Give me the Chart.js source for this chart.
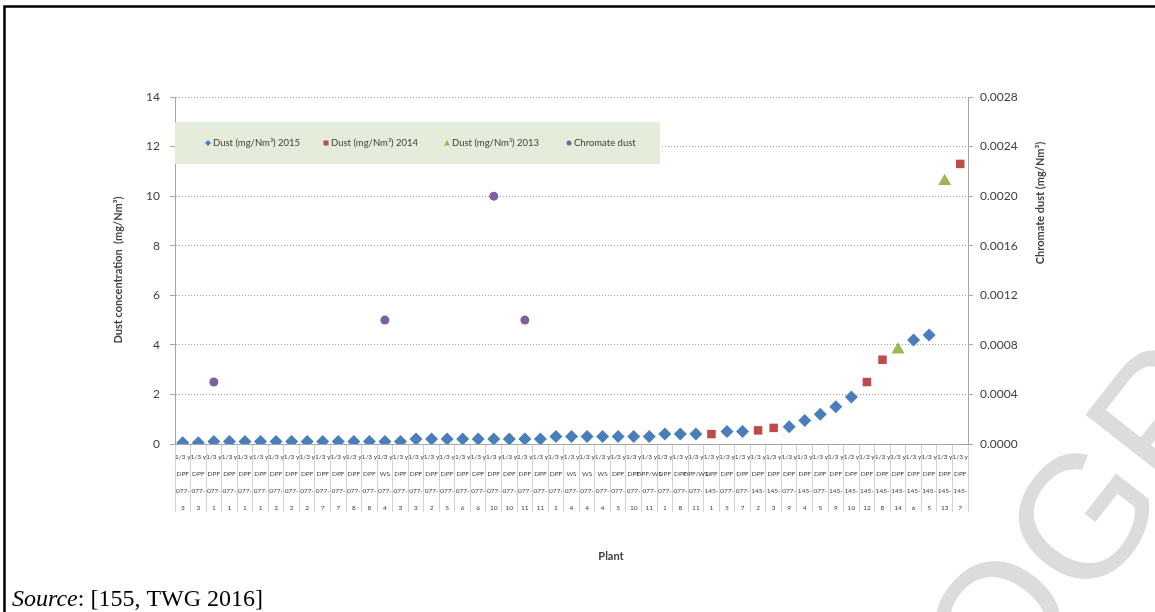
<!DOCTYPE html>
<html>
<head>
<meta charset="utf-8">
<script src="https://cdn.jsdelivr.net/npm/chart.js@4.4.1/dist/chart.umd.min.js"></script>
<style>
  html, body { margin: 0; padding: 0; background: #fff; }
  canvas { display: block; }
</style>
</head>
<body>
<canvas id="dustChart" width="1155" height="612"></canvas>
<script>
// plant label rows (four stacked rows under each category)
const plantRow1 = Array(51).fill('1/3 y');
const plantType = [
  'DPF','DPF','DPF','DPF','DPF','DPF','DPF','DPF','DPF','DPF','DPF','DPF','DPF','WS','DPF','DPF','DPF',
  'DPF','DPF','DPF','DPF','DPF','DPF','DPF','DPF','WS','WS','WS','DPF','DPF','DPF/WS','DPF','DPF','DPF/WS',
  'DPF','DPF','DPF','DPF','DPF','DPF','DPF','DPF','DPF','DPF','DPF','DPF','DPF','DPF','DPF','DPF','DPF'
];
const plantSite = [
  '077-','077-','077-','077-','077-','077-','077-','077-','077-','077-','077-','077-','077-','077-','077-','077-','077-',
  '077-','077-','077-','077-','077-','077-','077-','077-','077-','077-','077-','077-','077-','077-','077-','077-','077-',
  '145-','077-','077-','145-','145-','077-','145-','077-','145-','145-','145-','145-','145-','145-','145-','145-','145-'
];
const plantNo = [
  3,3,1,1,1,1,2,2,2,7,7,8,8,4,3,3,2,
  5,6,6,10,10,11,11,1,4,4,4,5,10,11,1,8,11,
  1,5,7,2,3,9,4,5,9,10,12,8,14,6,5,13,7
];

// dust concentration, mg/Nm3 (left axis)
const dust2015 = [
  0.05,0.05,0.1,0.1,0.1,0.1,0.1,0.1,0.1,0.1,0.1,0.1,0.1,0.1,0.1,0.2,0.2,
  0.2,0.2,0.2,0.2,0.2,0.2,0.2,0.3,0.3,0.3,0.3,0.3,0.3,0.3,0.4,0.4,0.4,
  null,0.5,0.5,null,null,0.7,0.95,1.2,1.5,1.9,null,null,null,4.2,4.4,null,null
];
const dust2014 = [
  null,null,null,null,null,null,null,null,null,null,null,null,null,null,null,null,null,
  null,null,null,null,null,null,null,null,null,null,null,null,null,null,null,null,null,
  0.4,null,null,0.55,0.65,null,null,null,null,null,2.5,3.4,null,null,null,null,11.3
];
const dust2013 = [
  null,null,null,null,null,null,null,null,null,null,null,null,null,null,null,null,null,
  null,null,null,null,null,null,null,null,null,null,null,null,null,null,null,null,null,
  null,null,null,null,null,null,null,null,null,null,null,null,3.8,null,null,10.6,null
];
// chromate dust, mg/Nm3 (right axis)
const chromate = [
  null,null,0.0005,null,null,null,null,null,null,null,null,null,null,0.001,null,null,null,
  null,null,null,0.002,null,0.001,null,null,null,null,null,null,null,null,null,null,null,
  null,null,null,null,null,null,null,null,null,null,null,null,null,null,null,null,null
];

const leftTicks = { min: 0, max: 14, step: 2 };
const rightTicks = { min: 0, max: 0.0028, step: 0.0004 };

const textGrey = '#404040';
const axisGrey = '#a6a6a6';

const pageDecor = {
  id: 'pageDecor',
  beforeDraw(chart) {
    const ctx = chart.ctx;
    ctx.save();
    ctx.fillStyle = '#fff';
    ctx.fillRect(0, 0, chart.width, chart.height);
    // frame around the figure
    ctx.strokeStyle = '#000';
    ctx.lineWidth = 2.5;
    ctx.beginPath();
    ctx.moveTo(4.5, chart.height);
    ctx.lineTo(4.5, 6.5);
    ctx.lineTo(chart.width, 6.5);
    ctx.stroke();
    ctx.restore();
  },
  afterDraw(chart) {
    const ctx = chart.ctx;
    ctx.save();
    // watermark
    ctx.fillStyle = '#dcdcdc';
    ctx.font = '175px "Liberation Sans"';
    const pre = ctx.measureText('PRO').width;
    const g = ctx.measureText('G').width;
    ctx.translate(1080, 515);
    ctx.rotate(-52 * Math.PI / 180);
    ctx.textBaseline = 'alphabetic';
    ctx.fillText('PROGRESS', -(pre + g / 2), 63);
    ctx.restore();

    ctx.save();
    ctx.fillStyle = textGrey;
    ctx.font = 'bold 11px Lato';
    ctx.textAlign = 'center';
    ctx.textBaseline = 'middle';
    ctx.save();
    ctx.translate(118, 270);
    ctx.rotate(-Math.PI / 2);
    ctx.fillText('Dust concentration  (mg/Nm³)', 0, 0);
    ctx.restore();
    ctx.save();
    ctx.translate(1040, 203);
    ctx.rotate(-Math.PI / 2);
    ctx.fillText('Chromate dust (mg/Nm³)', 0, 0);
    ctx.restore();
    ctx.fillText('Plant', 611, 556);

    // source line
    ctx.fillStyle = '#000';
    ctx.textAlign = 'left';
    ctx.textBaseline = 'alphabetic';
    ctx.font = 'italic 24px "Liberation Serif"';
    ctx.fillText('Source', 12, 606);
    const w = ctx.measureText('Source').width;
    ctx.font = '24px "Liberation Serif"';
    ctx.fillText(': [155, TWG 2016]', 12 + w, 606);
    ctx.restore();
  }
};

// legend box drawn inside the plot area
const legendBox = {
  id: 'legendBox',
  afterDraw(chart) {
    const ctx = chart.ctx;
    ctx.save();
    ctx.fillStyle = '#e6ecda';
    ctx.fillRect(175, 122, 485, 42);
    ctx.font = '9.5px Lato';
    ctx.textBaseline = 'middle';
    ctx.textAlign = 'left';
    const xs = [208, 326, 447, 569];
    const y = 143;
    chart.data.datasets.forEach((ds, i) => {
      const x = xs[i];
      ctx.fillStyle = ds.backgroundColor;
      ctx.beginPath();
      if (ds.pointStyle === 'rectRot') {
        ctx.moveTo(x, y - 3); ctx.lineTo(x + 3, y); ctx.lineTo(x, y + 3); ctx.lineTo(x - 3, y);
      } else if (ds.pointStyle === 'rect') {
        ctx.rect(x - 2.5, y - 2.5, 5, 5);
      } else if (ds.pointStyle === 'triangle') {
        ctx.moveTo(x, y - 3); ctx.lineTo(x + 3, y + 2.5); ctx.lineTo(x - 3, y + 2.5);
      } else {
        ctx.arc(x, y, 2.5, 0, Math.PI * 2);
      }
      ctx.closePath();
      ctx.fill();
      ctx.fillStyle = textGrey;
      ctx.fillText(ds.label, x + 5, y);
    });
    ctx.restore();
  }
};

const dustChart = new Chart(document.getElementById('dustChart'), {
  type: 'line',
  data: {
    labels: plantNo.map((n, i) => [plantRow1[i], plantType[i], plantSite[i], String(n)]),
    datasets: [{
      label: 'Dust (mg/Nm³) 2015',
      data: dust2015,
      yAxisID: 'y',
      showLine: false,
      pointStyle: 'rectRot',
      pointRadius: 6.5,
      borderWidth: 0,
      backgroundColor: '#4a7ebb',
      borderColor: '#4a7ebb'
    }, {
      label: 'Dust (mg/Nm³) 2014',
      data: dust2014,
      yAxisID: 'y',
      showLine: false,
      pointStyle: 'rect',
      pointRadius: 6,
      borderWidth: 0,
      backgroundColor: '#be4b48',
      borderColor: '#be4b48'
    }, {
      label: 'Dust (mg/Nm³) 2013',
      data: dust2013,
      yAxisID: 'y',
      showLine: false,
      pointStyle: 'triangle',
      pointRadius: 7.5,
      borderWidth: 0,
      backgroundColor: '#98b954',
      borderColor: '#98b954'
    }, {
      label: 'Chromate dust',
      data: chromate,
      yAxisID: 'y1',
      showLine: false,
      pointStyle: 'circle',
      pointRadius: 4.5,
      borderWidth: 0,
      backgroundColor: '#7d60a0',
      borderColor: '#7d60a0'
    }]
  },
  options: {
    responsive: false,
    animation: false,
    devicePixelRatio: 1,
    layout: { padding: { top: 97 } },
    plugins: { legend: { display: false }, tooltip: { enabled: false } },
    scales: {
      x: {
        offset: true,
        grid: { offset: true, drawOnChartArea: false, tickLength: 68, tickColor: '#d2d2d2', color: '#d2d2d2' },
        border: { color: axisGrey },
        ticks: {
          autoSkip: false, maxRotation: 0, minRotation: 0, padding: -64,
          color: textGrey, font: { family: 'Lato', size: 6.5, lineHeight: '17px' }
        },
        afterFit(scale) { scale.height = 168; }
      },
      y: {
        position: 'left',
        min: leftTicks.min, max: leftTicks.max,
        ticks: { stepSize: leftTicks.step, padding: 10, color: textGrey, font: { family: 'Lato', size: 12 } },
        grid: { color: '#a0a0a0', tickLength: 5, tickColor: axisGrey },
        border: { color: axisGrey, dash: [1, 2] },
        afterFit(scale) { scale.width = 175; }
      },
      y1: {
        position: 'right',
        min: rightTicks.min, max: rightTicks.max,
        ticks: {
          stepSize: rightTicks.step, padding: 7, color: textGrey, font: { family: 'Lato', size: 12 },
          callback: v => v.toFixed(4)
        },
        grid: { drawOnChartArea: false, tickLength: 5, tickColor: axisGrey },
        border: { color: axisGrey },
        afterFit(scale) { scale.width = 187; }
      }
    }
  },
  plugins: [pageDecor, legendBox]
});
</script>
</body>
</html>
